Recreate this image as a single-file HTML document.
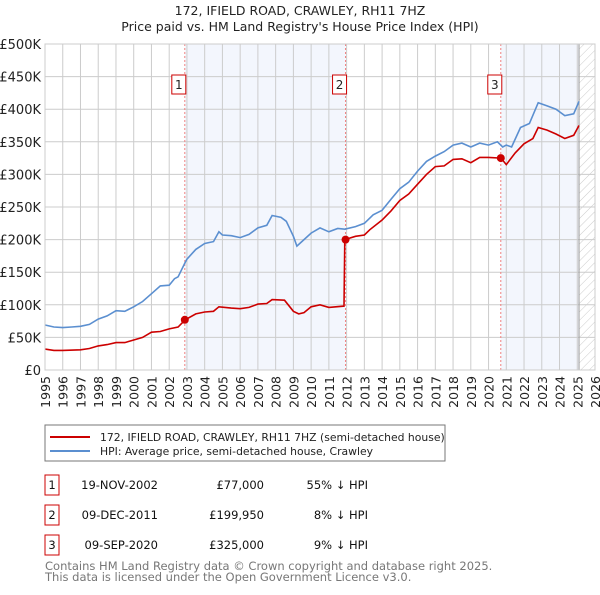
<!DOCTYPE html>
<html><head><meta charset="utf-8"><style>
body{margin:0;background:#fff;font-family:"Liberation Sans","DejaVu Sans",sans-serif}
svg text{font-family:"DejaVu Sans","Liberation Sans",sans-serif}
</style></head><body>
<svg id="c" width="600" height="590" xmlns="http://www.w3.org/2000/svg">
<defs><pattern id="hatch" width="6" height="6" patternUnits="userSpaceOnUse" patternTransform="rotate(45)"><line x1="0" y1="0" x2="0" y2="6" stroke="#ccc" stroke-width="1"/></pattern></defs>
<text x="300" y="15" text-anchor="middle" font-size="12.5" fill="#222">172, IFIELD ROAD, CRAWLEY, RH11 7HZ</text>
<text x="300" y="31" text-anchor="middle" font-size="12.5" fill="#222">Price paid vs. HM Land Registry's House Price Index (HPI)</text>
<g id="plot"></g>
<rect x="45" y="425" width="400" height="36" fill="#fff" stroke="#777"/>
<line x1="50" y1="437" x2="90" y2="437" stroke="#cc0000" stroke-width="2"/>
<text x="100" y="441" font-size="10.8" fill="#222">172, IFIELD ROAD, CRAWLEY, RH11 7HZ (semi-detached house)</text>
<line x1="50" y1="451" x2="90" y2="451" stroke="#5b8fd0" stroke-width="2"/>
<text x="100" y="455" font-size="10.8" fill="#222">HPI: Average price, semi-detached house, Crawley</text>
<g id="tbl" font-size="11.5" fill="#111"></g>
<text x="45" y="570" font-size="11.5" fill="#777">Contains HM Land Registry data © Crown copyright and database right 2025.</text>
<text x="45" y="581" font-size="11.5" fill="#777">This data is licensed under the Open Government Licence v3.0.</text>
</svg>
<script>
const yTicks=[0,50,100,150,200,250,300,350,400,450,500];
const yTickLabels=["£0","£50K","£100K","£150K","£200K","£250K","£300K","£350K","£400K","£450K","£500K"];
const years=[1995,1996,1997,1998,1999,2000,2001,2002,2003,2004,2005,2006,2007,2008,2009,2010,2011,2012,2013,2014,2015,2016,2017,2018,2019,2020,2021,2022,2023,2024,2025,2026];
const hpiT=[1995,1995.5,1996,1996.5,1997,1997.5,1998,1998.5,1999,1999.5,2000,2000.5,2001,2001.5,2002,2002.3,2002.5,2002.9,2003,2003.5,2004,2004.5,2004.8,2005,2005.5,2006,2006.5,2007,2007.5,2007.8,2008.3,2008.6,2009,2009.2,2009.6,2010,2010.5,2011,2011.5,2011.9,2012.5,2013,2013.5,2014,2014.5,2015,2015.5,2016,2016.5,2017,2017.5,2018,2018.5,2019,2019.5,2020,2020.5,2020.8,2021,2021.3,2021.8,2022.3,2022.8,2023.3,2023.8,2024.3,2024.8,2025.1];
const hpiV=[69,66,65,66,67,70,78,83,91,90,97,105,117,129,130,140,143,165,170,185,194,197,212,207,206,203,208,218,222,237,234,228,205,190,200,210,218,212,217,216,220,225,238,245,262,278,288,305,320,328,335,345,348,342,348,345,350,342,345,342,372,378,410,405,400,390,393,412];
const priceT=[1995,1995.5,1996,1997,1997.5,1998,1998.5,1999,1999.5,2000,2000.5,2001,2001.5,2002,2002.5,2002.9,2003.5,2004,2004.5,2004.8,2005.5,2006,2006.5,2007,2007.5,2007.8,2008.5,2009,2009.3,2009.6,2010,2010.5,2011,2011.85,2011.9,2012.5,2013,2013.3,2014,2014.5,2015,2015.5,2016,2016.5,2017,2017.5,2018,2018.5,2019,2019.5,2020,2020.7,2021,2021.5,2022,2022.5,2022.8,2023.3,2023.8,2024.3,2024.8,2025.1];
const priceV=[32,30,30,31,33,37,39,42,42,46,50,58,59,63,66,77,86,89,90,97,95,94,96,101,102,108,107,90,86,88,97,100,96,98,199.95,205,207,215,230,244,260,270,285,300,312,313,323,324,318,326,326,325,315,333,347,355,372,368,362,355,360,375];
const salesT=[2002.88,2011.94,2020.69];
const salesV=[77,199.95,325];
const saleLabels=["1","2","3"];
const saleDates=["19-NOV-2002","09-DEC-2011","09-SEP-2020"];
const salePrices=["£77,000","£199,950","£325,000"];
const salePct=["55% ↓ HPI","8% ↓ HPI","9% ↓ HPI"];

const X0=45,X1=595,Y0=370,Y1=44;
const xs=t=>X0+(t-1995)/(2026-1995)*(X1-X0);
const ys=v=>Y0-v/500*(Y0-Y1);
const NS="http://www.w3.org/2000/svg";
const plot=document.getElementById('plot');
function mk(tag,attrs,parent){const e=document.createElementNS(NS,tag);for(const k in attrs)e.setAttribute(k,attrs[k]);(parent||plot).appendChild(e);return e;}
let e;
e=mk('rect',{x:X0,y:Y1,width:X1-X0,height:Y0-Y1,fill:'#fff'});


e=mk('rect',{x:xs(salesT[0]),y:Y1,width:xs(salesT[1])-xs(salesT[0]),height:Y0-Y1,fill:'#f3f6fd'});


e=mk('rect',{x:xs(salesT[2]),y:Y1,width:xs(2025.1)-xs(salesT[2]),height:Y0-Y1,fill:'#f3f6fd'});


e=mk('rect',{x:xs(2025.1),y:Y1,width:X1-xs(2025.1),height:Y0-Y1,fill:'url(#hatch)'});


yTicks.forEach((v,i)=>{
 e=mk('line',{x1:X0,x2:X1,y1:ys(v),y2:ys(v),stroke:'#ccc'});
 
 
 e=mk('text',{x:X0-4,y:ys(v)+5,'text-anchor':'end','font-size':13,fill:'#222'});
 e.textContent=yTickLabels[i];
 
 
});
years.forEach(yr=>{
 e=mk('line',{x1:xs(yr),x2:xs(yr),y1:Y1,y2:Y0,stroke:'#ccc'});
 
 
 e=mk('text',{x:0,y:0,transform:`translate(${xs(yr)+5},${Y0+6}) rotate(-90)`,'text-anchor':'end','font-size':12.5,fill:'#222'});
 e.textContent=yr;
 
 
});
e=mk('line',{x1:xs(2025.1),x2:xs(2025.1),y1:Y1,y2:Y0,stroke:'#999'});


salesT.forEach((t,i)=>{
 e=mk('line',{x1:xs(t),x2:xs(t),y1:Y1,y2:Y0,stroke:'#f08080','stroke-dasharray':'2,2'});
 
 
 e=mk('rect',{x:xs(t)-13,y:75,width:14,height:19,fill:'#fff',stroke:'#cc0000'});
 
 
 e=mk('text',{x:xs(t)-6,y:89,'text-anchor':'middle','font-size':12,fill:'#222'});
 e.textContent=saleLabels[i];
 
 
});
e=mk('path',{d:hpiT.map((t,i)=>(i?'L':'M')+xs(t).toFixed(1)+','+ys(hpiV[i]).toFixed(1)).join(''),fill:'none',stroke:'#5b8fd0','stroke-width':1.6});


e=mk('path',{d:priceT.map((t,i)=>(i?'L':'M')+xs(t).toFixed(1)+','+ys(priceV[i]).toFixed(1)).join(''),fill:'none',stroke:'#cc0000','stroke-width':1.6});


salesT.forEach((t,i)=>{
 e=mk('circle',{cx:xs(t),cy:ys(salesV[i]),r:4,fill:'#cc0000'});
 
 
});
e=mk('rect',{x:X0,y:Y1,width:X1-X0,height:Y0-Y1,fill:'none',stroke:'#ccc'});


const tbl=document.getElementById('tbl');
saleLabels.forEach((l,i)=>{
 const y=475+i*30;
 e=mk('rect',{x:45,y:y,width:14,height:20,fill:'#fff',stroke:'#cc0000'},tbl);
 
 
 e=mk('text',{x:52,y:y+14,'text-anchor':'middle'},tbl);e.textContent=l;
 
 
 e=mk('text',{x:158,y:y+14,'text-anchor':'end'},tbl);e.textContent=saleDates[i];
 
 
 e=mk('text',{x:264,y:y+14,'text-anchor':'end'},tbl);e.textContent=salePrices[i];
 
 
 e=mk('text',{x:368,y:y+14,'text-anchor':'end'},tbl);e.textContent=salePct[i];
 
 
});
</script>
</body></html>
